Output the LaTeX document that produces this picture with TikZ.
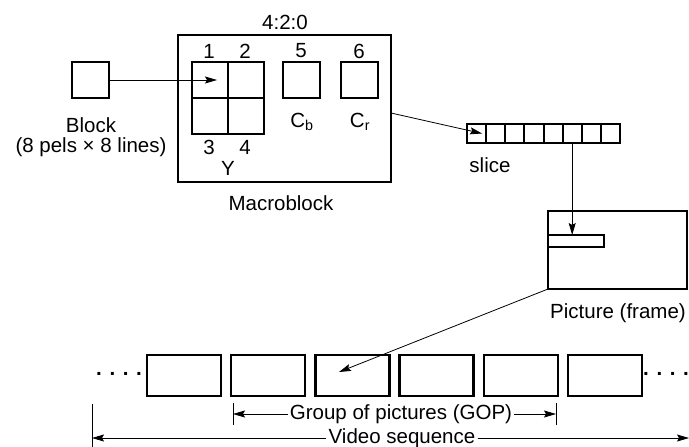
\documentclass[tikz,border=0pt]{standalone}
\usepackage{fontspec}
\setmainfont{Liberation Sans}
\usetikzlibrary{arrows.meta,calc}
\begin{document}
\begin{tikzpicture}[x=1pt,y=-1pt,
  every node/.style={font=\fontsize{20.5}{24}\selectfont},
  box/.style={draw,line width=2.4pt,inner sep=0pt,outer sep=0pt},
  lbl/.style={inner sep=1pt},
  conn/.style={line width=0.8pt,-{Stealth[length=12pt,width=7pt,inset=2pt]}},
  tick/.style={line width=0.8pt}]
\useasboundingbox (0,0) rectangle (689,447);
% block
\node[box,minimum width=37pt,minimum height=36pt] (blk) at (90.5,80) {};
\node[lbl] (blklbl) at (91,125) {Block};
\node[lbl] (blksz) at (91,147) {(8 pels × 8 lines)};
% macroblock
\node[box,minimum width=213pt,minimum height=147pt] (mb) at (284.5,108.5) {};
\node[lbl] (mblbl) at (281,203) {Macroblock};
\node[lbl] (fmt) at (285,22) {4:2:0};
\foreach \n/\cx/\cy in {y1/210/80,y2/246/80,y3/210/116,y4/246/116}
  \node[box,minimum width=36pt,minimum height=36pt] (\n) at (\cx,\cy) {};
\node[box,minimum width=37pt,minimum height=36pt] (cb) at (301.5,80) {};
\node[box,minimum width=37pt,minimum height=36pt] (cr) at (359.5,80) {};
\node[lbl] (n1) at (209,51) {1};
\node[lbl] (n2) at (245,51) {2};
\node[lbl] (n5) at (301,51) {5};
\node[lbl] (n6) at (359,51) {6};
\node[lbl] (n3) at (209,147) {3};
\node[lbl] (n4) at (245,147) {4};
\node[lbl] (ylbl) at (228,168) {Y};
\node[lbl] (cblbl) at (302,122) {C\textsubscript{b}};
\node[lbl] (crlbl) at (360,122) {C\textsubscript{r}};
% slice
\foreach \i in {1,...,8}
  \node[box,line width=2pt,minimum width=19.125pt,minimum height=19pt] (s\i) at ({467+19.125*(\i-0.5)},133.5) {};
\node[lbl] (slbl) at (490,165) {slice};
% picture
\node[box,minimum width=139pt,minimum height=78pt] (pic) at (617.5,250) {};
\node[box,line width=2pt,minimum width=56pt,minimum height=12pt] (bar) at (576,241) {};
\node[lbl] (piclbl) at (618,313) {Picture (frame)};
% frames
\foreach \i in {1,...,6}
  \node[box,minimum width=74pt,minimum height=41pt] (f\i) at ({147+37+84.2*(\i-1)},375.5) {};
\node[inner sep=0pt] (dl) at (119,374) {\textbf{. . . .}};
\node[inner sep=0pt] (dr) at (666,374) {\textbf{. . . .}};
% connectors
\coordinate (t1) at (217,80);
\draw[conn] (blk.east) -- (t1);
\draw[conn] ([yshift=-4.5pt]mb.east) -- ([xshift=5.5pt]s1.center);
\draw[conn] (s6.south) -- (s6.south |- bar.north);
\coordinate (t3) at (339,372);
\draw[conn] (pic.south west) -- (t3);
% GOP
\node[inner sep=2pt] (gop) at (401,414) {Group of pictures (GOP)};
\coordinate (g1) at (233,414);
\coordinate (g2) at (556,414);
\draw[tick] (233,403) -- (233,425);
\draw[tick] (556,403) -- (556,425);
\draw[conn] (gop.west) -- (g1);
\draw[conn] (gop.east) -- (g2);
% video sequence
\node[inner sep=2pt,fill=white] (vs) at (402,438) {Video sequence};
\coordinate (v1) at (92,438);
\coordinate (v2) at (689,438);
\draw[tick] (92,404) -- (92,447);
\draw[conn] (vs.west) -- (v1);
\draw[conn] (vs.east) -- (v2);
\end{tikzpicture}
\end{document}
